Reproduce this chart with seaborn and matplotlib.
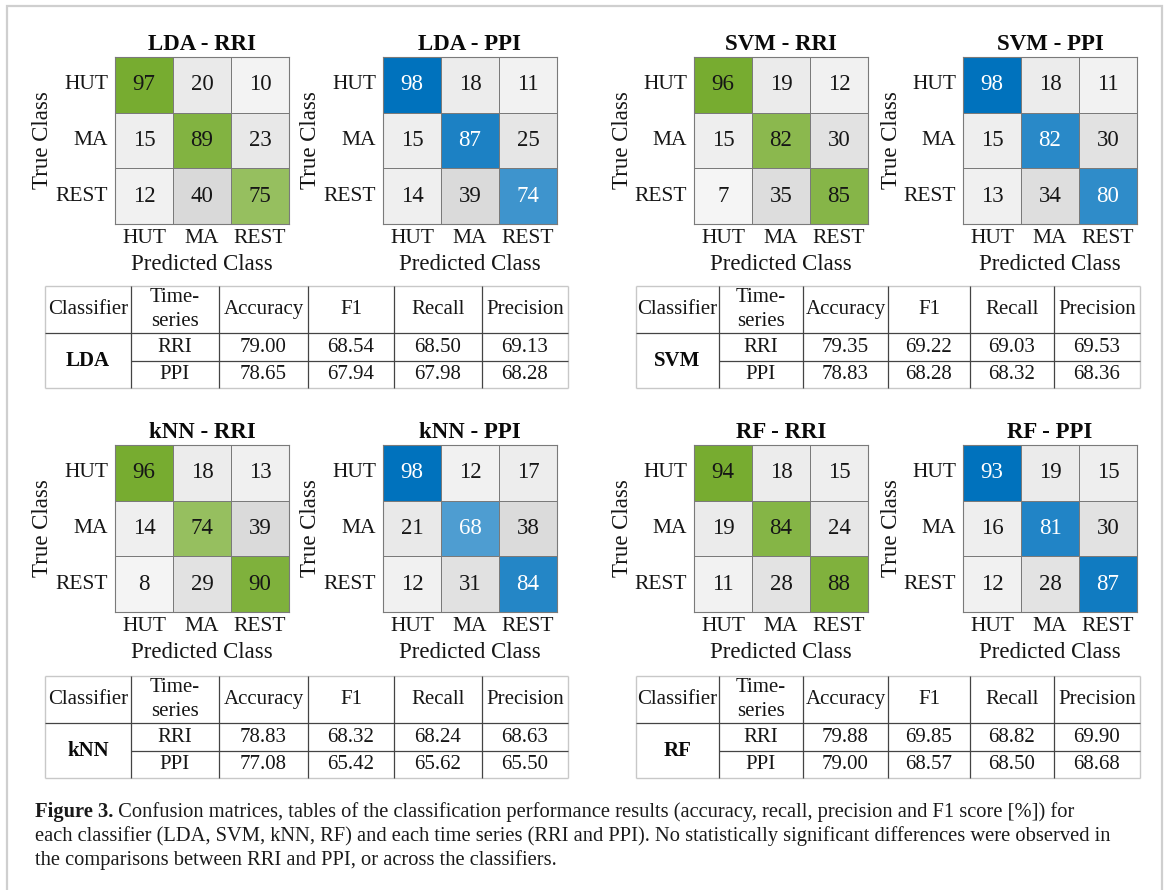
import numpy as np
import pandas as pd
import seaborn as sns
import matplotlib
matplotlib.use("Agg")
import matplotlib.pyplot as plt
from matplotlib.colors import LinearSegmentedColormap
from matplotlib.patches import Rectangle

# ---- data -------------------------------------------------------------
classes = ["HUT", "MA", "REST"]

lda_rri = [[97, 20, 10], [15, 89, 23], [12, 40, 75]]
lda_ppi = [[98, 18, 11], [15, 87, 25], [14, 39, 74]]
svm_rri = [[96, 19, 12], [15, 82, 30], [7, 35, 85]]
svm_ppi = [[98, 18, 11], [15, 82, 30], [13, 34, 80]]
knn_rri = [[96, 18, 13], [14, 74, 39], [8, 29, 90]]
knn_ppi = [[98, 12, 17], [21, 68, 38], [12, 31, 84]]
rf_rri = [[94, 18, 15], [19, 84, 24], [11, 28, 88]]
rf_ppi = [[93, 19, 15], [16, 81, 30], [12, 28, 87]]

metric_names = ["Accuracy", "F1", "Recall", "Precision"]
series_names = ["RRI", "PPI"]
lda_scores = [[79.00, 68.54, 68.50, 69.13], [78.65, 67.94, 67.98, 68.28]]
svm_scores = [[79.35, 69.22, 69.03, 69.53], [78.83, 68.28, 68.32, 68.36]]
knn_scores = [[78.83, 68.32, 68.24, 68.63], [77.08, 65.42, 65.62, 65.50]]
rf_scores = [[79.88, 69.85, 68.82, 69.90], [79.00, 68.57, 68.50, 68.68]]

caption_head = "Figure 3."
caption_lines = [
    " Confusion matrices, tables of the classification performance results (accuracy, recall, precision and F1 score [%]) for",
    "each classifier (LDA, SVM, kNN, RF) and each time series (RRI and PPI). No statistically significant differences were observed in",
    "the comparisons between RRI and PPI, or across the classifiers.",
]

# ---- style ------------------------------------------------------------
plt.rcParams["font.family"] = ["Liberation Serif", "DejaVu Serif"]
GREEN = "#77ac30"
BLUE = "#0072bd"
EDGE = "#7a7a7a"
TEXT = "#161616"
gray_cmap = LinearSegmentedColormap.from_list("offdiag", ["#fbfbfb", "#a6a6a6"])

W, H = 1167, 890
fig = plt.figure(figsize=(W / 100, H / 100), dpi=100)
fig.patch.set_facecolor("white")


def px_rect(x, y, w, h):
    return [x / W, 1 - (y + h) / H, w / W, h / H]


def draw_matrix(x, y, values, title, color, diag_text):
    w, h = 174, 167
    ax = fig.add_axes(px_rect(x, y, w, h))
    df = pd.DataFrame(values, index=classes, columns=classes)
    diag = np.eye(len(classes), dtype=bool)
    vmax = np.diag(df.values).max()
    diag_cmap = LinearSegmentedColormap.from_list("diag", ["white", color])
    sns.heatmap(df, mask=~diag, cmap=diag_cmap, vmin=0, vmax=vmax, cbar=False,
                annot=True, fmt="d", annot_kws={"fontsize": 16.5, "color": diag_text},
                linewidths=0.7, linecolor=EDGE, ax=ax)
    sns.heatmap(df, mask=diag, cmap=gray_cmap, vmin=0, vmax=100, cbar=False,
                annot=True, fmt="d", annot_kws={"fontsize": 16.5, "color": TEXT},
                linewidths=0.7, linecolor=EDGE, ax=ax)
    ax.tick_params(length=0, labelsize=15.5, colors=TEXT)
    ax.tick_params(axis="y", pad=5, labelrotation=0)
    ax.tick_params(axis="x", pad=3.5)
    for s in ax.spines.values():
        s.set_visible(True)
        s.set_color(EDGE)
        s.set_linewidth(0.8)
    ax.set_title(title, fontsize=16.5, fontweight="bold", pad=5, color="#0a0a0a")
    ax.set_xlabel("Predicted Class", fontsize=16.5, va="center", color=TEXT)
    ax.xaxis.set_label_coords(0.5, -41 / h)
    ax.set_ylabel("True Class", fontsize=16.5, va="center", color=TEXT)
    ax.yaxis.set_label_coords(-72 / w, 0.5)


def draw_table(cols, ys, name, scores):
    y0, yh, ym, y1 = ys
    x0, x1 = cols[0], cols[-1]
    ax = fig.add_axes(px_rect(x0, y0, x1 - x0, y1 - y0))
    ax.set_xlim(x0, x1)
    ax.set_ylim(y1, y0)
    ax.axis("off")
    light = "#c8c8c8"
    dark = "#444444"
    kw = dict(clip_on=False, solid_capstyle="butt")
    # outer frame
    ax.plot([x0, x1], [y0, y0], color=light, lw=1.0, **kw)
    ax.plot([x0, x1], [y1, y1], color=light, lw=1.0, **kw)
    ax.plot([x0, x0], [y0, y1], color=light, lw=1.0, **kw)
    ax.plot([x1, x1], [y0, y1], color=light, lw=1.0, **kw)
    # inner rules
    for cx in cols[1:-1]:
        ax.plot([cx, cx], [y0, y1], color=dark, lw=0.9, **kw)
    ax.plot([x0, x1], [yh, yh], color=dark, lw=0.9, **kw)
    ax.plot([cols[1], x1], [ym, ym], color=dark, lw=0.9, **kw)

    fs = 15
    hc = (y0 + yh) / 2
    ax.text((cols[0] + cols[1]) / 2, hc, "Classifier", ha="center", va="center", fontsize=fs, color=TEXT)
    ax.text((cols[1] + cols[2]) / 2, hc - 11.5, "Time-", ha="center", va="center", fontsize=fs, color=TEXT)
    ax.text((cols[1] + cols[2]) / 2, hc + 11.5, "series", ha="center", va="center", fontsize=fs, color=TEXT)
    for j, m in enumerate(metric_names):
        ax.text((cols[j + 2] + cols[j + 3]) / 2, hc, m, ha="center", va="center", fontsize=fs, color=TEXT)
    ax.text((cols[0] + cols[1]) / 2, (yh + y1) / 2 + 1, name, ha="center", va="center",
            fontsize=fs, fontweight="bold", color="#0a0a0a")
    row_c = [(yh + ym) / 2, (ym + y1) / 2]
    for i, sname in enumerate(series_names):
        ax.text((cols[1] + cols[2]) / 2, row_c[i], sname, ha="center", va="center", fontsize=fs, color=TEXT)
        for j in range(len(metric_names)):
            ax.text((cols[j + 2] + cols[j + 3]) / 2, row_c[i], f"{scores[i][j]:.2f}",
                    ha="center", va="center", fontsize=fs, color=TEXT)


# ---- confusion matrices ------------------------------------------------
left_x = [115, 383]
right_x = [694, 963]
top_y, bot_y = 57, 445

draw_matrix(left_x[0], top_y, lda_rri, "LDA - RRI", GREEN, TEXT)
draw_matrix(left_x[1], top_y, lda_ppi, "LDA - PPI", BLUE, "white")
draw_matrix(right_x[0], top_y, svm_rri, "SVM - RRI", GREEN, TEXT)
draw_matrix(right_x[1], top_y, svm_ppi, "SVM - PPI", BLUE, "white")
draw_matrix(left_x[0], bot_y, knn_rri, "kNN - RRI", GREEN, TEXT)
draw_matrix(left_x[1], bot_y, knn_ppi, "kNN - PPI", BLUE, "white")
draw_matrix(right_x[0], bot_y, rf_rri, "RF - RRI", GREEN, TEXT)
draw_matrix(right_x[1], bot_y, rf_ppi, "RF - PPI", BLUE, "white")

# ---- score tables -------------------------------------------------------
cols_left = [45, 131, 219, 308, 394, 482, 568]
cols_right = [636, 719, 803, 888, 970, 1054, 1140]
rows_top = [286, 333, 361, 388]
rows_bot = [676, 723, 751, 778]

draw_table(cols_left, rows_top, "LDA", lda_scores)
draw_table(cols_right, rows_top, "SVM", svm_scores)
draw_table(cols_left, rows_bot, "kNN", knn_scores)
draw_table(cols_right, rows_bot, "RF", rf_scores)

# ---- caption -------------------------------------------------------------
cap_fs = 14.8
cap_x = 35 / W
baselines = [817, 841, 865]
head = fig.text(cap_x, 1 - baselines[0] / H, caption_head, fontsize=cap_fs, fontweight="bold",
                va="baseline", ha="left", color="#1a1a1a")
renderer = fig.canvas.get_renderer()
bb = head.get_window_extent(renderer)
fig.text(bb.x1 / W, 1 - baselines[0] / H, caption_lines[0], fontsize=cap_fs, va="baseline",
         ha="left", color="#1a1a1a")
for line, yb in zip(caption_lines[1:], baselines[1:]):
    fig.text(cap_x, 1 - yb / H, line, fontsize=cap_fs, va="baseline", ha="left", color="#1a1a1a")

# ---- outer frame ---------------------------------------------------------
fig.add_artist(Rectangle((7 / W, -0.05), (1162 - 7) / W, 1.05 - 6 / H, transform=fig.transFigure,
                         fill=False, edgecolor="#cfcfcf", linewidth=1.6))

fig.savefig("out.png", dpi=100)
